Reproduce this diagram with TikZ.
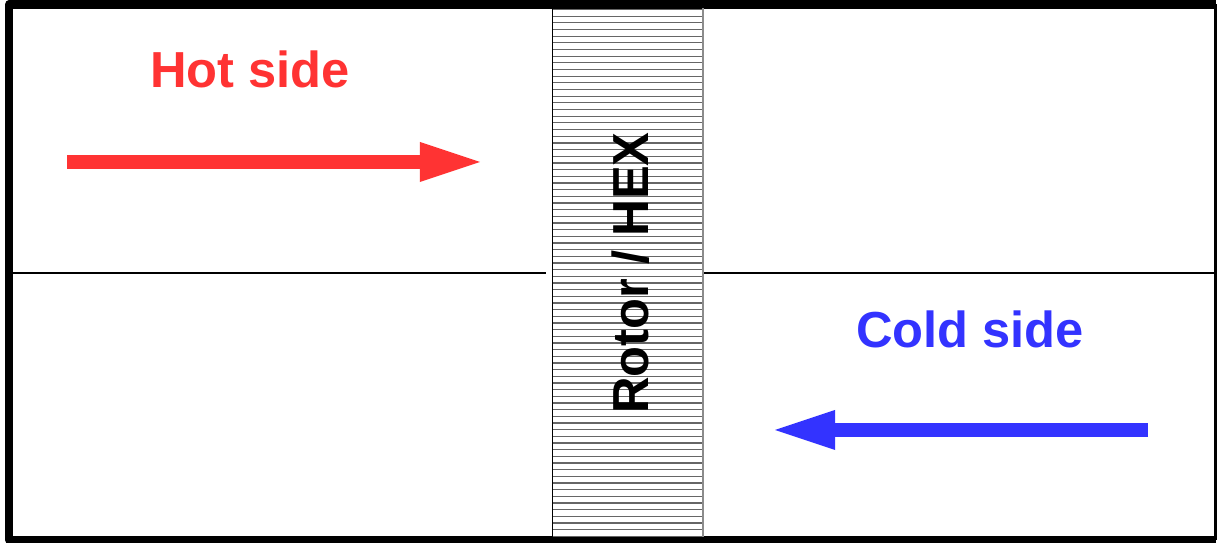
\documentclass[tikz,border=0pt]{standalone}
\usepackage{fontspec}
\usepackage{xcolor}
\usepackage{tikz}
\usetikzlibrary{arrows.meta,calc}
\setmainfont{Liberation Sans}
\definecolor{hotred}{RGB}{255,51,51}
\definecolor{coldblue}{RGB}{51,51,255}

\begin{document}
\begin{tikzpicture}[x=0.01cm,y=-0.01cm]
            \tikzset{frame/.style = {line width=2.3pt, line join=round}}
            \tikzset{label/.style = {font=\fontsize{14.4pt}{17pt}\selectfont\bfseries, inner sep=0pt, anchor=base}}
            \tikzset{flow/.style = {line width=0.14cm, -{Triangle[length=0.6cm,width=0.4cm,line width=0pt]}}}
            \useasboundingbox (0,0) rectangle (1217,543);
            
            % outer frame
            \draw[frame] (1216,540) -- (9,540) -- (9,4.5) -- (1216,4.5);
            \draw[line width=0.6pt] (1215.5,4.5) -- (1215.5,540);
            
            % rotor
            \foreach \i in {0,...,79}
            {
              \draw[black!60, line width=0.35pt] (552,{9.5+6.67*\i}) -- (703,{9.5+6.67*\i});
            }
            \draw[line width=0.4pt] (552.5,8) -- (552.5,537);
            \draw[black!45, line width=0.45pt] (703,8) -- (703,537);
            \node[label, rotate=90] (rotor) at (648,273) {Rotor / HEX};
            
            % dividers
            \draw[line width=0.3pt] (13,273) -- (546,273);
            \draw[line width=0.3pt] (704,273) -- (1214,273);
            
            % sides
            \node[label, text=hotred] (hot) at (250,88) {Hot side};
            \node[label, text=coldblue] (cold) at (970,348) {Cold side};
            
            % flows
            \coordinate (hotin) at (67,162);
            \coordinate (hotout) at (480,162);
            \coordinate (coldin) at (1148,430);
            \coordinate (coldout) at (775,430);
            \draw[flow, hotred] (hotin) -- (hotout);
            \draw[flow, coldblue] (coldin) -- (coldout);
            
          \end{tikzpicture}
\end{document}
